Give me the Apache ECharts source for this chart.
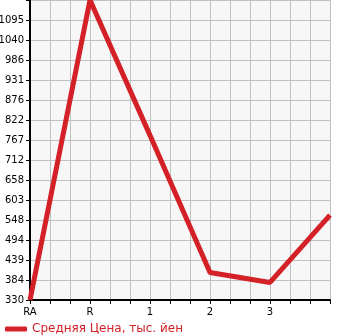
<!DOCTYPE html>
<html>
<head>
<meta charset="utf-8">
<script src="https://cdn.jsdelivr.net/npm/echarts@6/dist/echarts.min.js"></script>
<style>
html,body{margin:0;padding:0;background:#fff;}
#c{width:345px;height:335px;}
</style>
</head>
<body>
<div id="c"></div>
<script>
const categories = ['RA', 'R', '1', '2', '3', ''];
const seriesName = 'Средняя Цена, тыс. йен';
const priceValues = [330, 1150, 780, 405, 378, 562];
const yTickLabels = ['330', '384', '439', '494', '548', '603', '658', '712', '767', '822', '876', '931', '986', '1040', '1095', ''];
const yMin = 330;
const yMax = 1150;

const yInterval = (yMax - yMin) / (yTickLabels.length - 1);
const chart = echarts.init(document.getElementById('c'), null, {renderer: 'canvas'});
const font = 'DejaVu Sans';
chart.setOption({
  animation: false,
  backgroundColor: '#ffffff',
  grid: {
    left: 30, right: 15, top: 0, bottom: 35,
    containLabel: false,
    outerBoundsMode: 'none',
    show: true, backgroundColor: '#f7f7f7', borderWidth: 0
  },
  legend: {
    show: true,
    left: 0,
    top: 318,
    data: [seriesName],
    icon: 'roundRect',
    itemWidth: 22,
    itemHeight: 5,
    textStyle: {color: '#d42027', fontSize: 12, fontFamily: font}
  },
  xAxis: {
    type: 'value',
    min: 0,
    max: categories.length - 1,
    interval: 1 / 3,
    axisLine: {show: true, lineStyle: {color: '#000', width: 2}},
    axisTick: {show: true, length: 4, lineStyle: {color: '#000', width: 1}},
    splitLine: {show: true, lineStyle: {color: '#c0c0c0', width: 1}},
    axisLabel: {
      margin: 7,
      fontSize: 10,
      fontFamily: font,
      color: '#000',
      showMaxLabel: true,
      formatter: function (v) {
        const i = Math.round(v);
        if (Math.abs(v - i) < 1e-6) return categories[i] || '';
        return '';
      }
    }
  },
  yAxis: {
    type: 'value',
    min: yMin,
    max: yMax,
    interval: yInterval,
    axisLine: {show: true, lineStyle: {color: '#000', width: 2}},
    axisTick: {show: true, length: 4, lineStyle: {color: '#000', width: 1}},
    splitLine: {show: true, lineStyle: {color: '#c0c0c0', width: 1}},
    axisLabel: {
      margin: 6,
      fontSize: 10,
      fontFamily: font,
      color: '#000',
      formatter: function (v) {
        const i = Math.round((v - yMin) / yInterval);
        return yTickLabels[i] !== undefined ? yTickLabels[i] : '';
      }
    }
  },
  series: [{
    name: seriesName,
    type: 'line',
    data: priceValues.map((v, i) => [i, v]),
    symbol: 'none',
    lineStyle: {color: '#d42027', width: 5},
    itemStyle: {color: '#d42027'},
    clip: false
  }]
});
</script>
</body>
</html>
